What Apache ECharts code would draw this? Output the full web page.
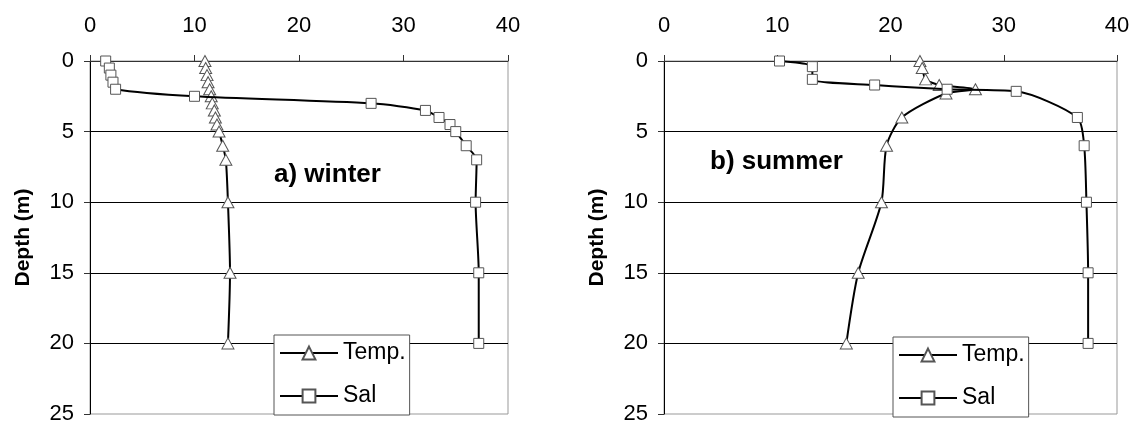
<!DOCTYPE html>
<html>
<head>
<meta charset="utf-8">
<script src="https://cdn.jsdelivr.net/npm/echarts@6/dist/echarts.min.js"></script>
<style>
  html, body { margin: 0; padding: 0; background: #fff; }
  #chart { width: 1134px; height: 425px; }
</style>
</head>
<body>
<div id="chart"></div>
<script>
// ---- data ----
const xTicks = [0, 10, 20, 30, 40];
const depthTicks = [0, 5, 10, 15, 20, 25];
const panelTitles = ['a) winter', 'b) summer'];
const seriesNames = ['Temp.', 'Sal'];

const winterTempDepth = [0, 0.5, 1, 1.5, 2, 2.5, 3, 3.5, 4, 4.5, 5, 6, 7, 10, 15, 20];
const winterTemp      = [11.0, 11.07, 11.2, 11.3, 11.45, 11.6, 11.7, 11.9, 12.0, 12.15, 12.35, 12.7, 13.0, 13.2, 13.4, 13.2];
const winterSalDepth  = [0, 0.5, 1, 1.5, 2, 2.5, 3, 3.5, 4, 4.5, 5, 6, 7, 10, 15, 20];
const winterSal       = [1.5, 1.85, 2.0, 2.2, 2.45, 10.0, 26.9, 32.1, 33.4, 34.45, 35.0, 36.0, 37.0, 36.9, 37.2, 37.2];

const summerTempDepth = [0, 0.5, 1.3, 1.7, 2.0, 2.3, 4, 6, 10, 15, 20];
const summerTemp      = [22.6, 22.8, 23.1, 24.3, 27.5, 24.9, 21.0, 19.65, 19.2, 17.15, 16.1];
const summerSalDepth  = [0, 0.4, 1.3, 1.7, 2.0, 2.15, 4, 6, 10, 15, 20];
const summerSal       = [10.2, 13.1, 13.1, 18.6, 25.0, 31.1, 36.5, 37.1, 37.3, 37.45, 37.45];

// ---- chart ----
const FONT = "'Liberation Sans', Arial, sans-serif";
const pair = (xs, ds) => xs.map((v, i) => [v, ds[i]]);

function xAxisCfg(gridIndex) {
  return {
    gridIndex, type: 'value', position: 'top',
    min: xTicks[0], max: xTicks[xTicks.length - 1], interval: xTicks[1] - xTicks[0],
    axisLine: { show: true, onZero: false, lineStyle: { color: '#333', width: 1 } },
    axisTick: { show: true, length: 6, lineStyle: { color: '#333' } },
    axisLabel: { fontSize: 22, color: '#000', fontFamily: FONT, margin: 24 },
    splitLine: { show: false }
  };
}
function yAxisCfg(gridIndex) {
  return {
    gridIndex, type: 'value', inverse: true,
    min: depthTicks[0], max: depthTicks[depthTicks.length - 1], interval: depthTicks[1] - depthTicks[0],
    name: 'Depth (m)', nameLocation: 'middle', nameGap: 56,
    nameTextStyle: { fontSize: 21, fontWeight: 'bold', color: '#000', fontFamily: FONT },
    axisLine: { show: true, onZero: false, lineStyle: { color: '#000', width: 1 } },
    axisTick: { show: true, length: 6, lineStyle: { color: '#333' } },
    axisLabel: { fontSize: 22, color: '#000', fontFamily: FONT, margin: 16 },
    splitLine: { show: true, showMinLine: false, showMaxLine: false, lineStyle: { color: '#000', width: 1 } }
  };
}
function lineSeries(name, idx, data, symbol, size) {
  return {
    name, type: 'line', xAxisIndex: idx, yAxisIndex: idx,
    data, smooth: 0.25, symbol, symbolSize: size, showAllSymbol: true,
    lineStyle: { color: '#000', width: 2 },
    itemStyle: { color: '#fff', borderColor: '#555', borderWidth: 1 },
    emphasis: { disabled: true },
    animation: false, z: symbol === 'rect' ? 3 : 2
  };
}
function legendCfg(left, top) {
  return {
    left, top, orient: 'vertical',
    data: seriesNames,
    itemWidth: 58, itemHeight: 16, itemGap: 17,
    padding: [5, 4, 6, 5],
    borderColor: '#555', borderWidth: 1, backgroundColor: '#fff',
    textStyle: { fontSize: 23, color: '#000', fontFamily: FONT, lineHeight: 26 },
    selectedMode: false
  };
}

const chart = echarts.init(document.getElementById('chart'), null, { renderer: 'canvas' });
chart.setOption({
  backgroundColor: '#fff',
  animation: false,
  title: [
    { text: panelTitles[0], left: 269, top: 157, textStyle: { fontSize: 26, fontWeight: 'bold', color: '#000', fontFamily: FONT } },
    { text: panelTitles[1], left: 705, top: 144, textStyle: { fontSize: 26, fontWeight: 'bold', color: '#000', fontFamily: FONT } }
  ],
  grid: [
    { left: 90, top: 61, width: 418, height: 358, show: true, borderColor: '#999', borderWidth: 1, backgroundColor: 'transparent' },
    { left: 664, top: 61, width: 453, height: 358, show: true, borderColor: '#999', borderWidth: 1, backgroundColor: 'transparent' }
  ],
  xAxis: [xAxisCfg(0), xAxisCfg(1)],
  yAxis: [yAxisCfg(0), yAxisCfg(1)],
  legend: [legendCfg(274, 335), legendCfg(893, 337)],
  series: [
    lineSeries(seriesNames[0], 0, pair(winterTemp, winterTempDepth), 'triangle', [12, 11]),
    lineSeries(seriesNames[1], 0, pair(winterSal, winterSalDepth), 'rect', 10),
    lineSeries(seriesNames[0], 1, pair(summerTemp, summerTempDepth), 'triangle', [12, 11]),
    lineSeries(seriesNames[1], 1, pair(summerSal, summerSalDepth), 'rect', 10)
  ]
});
</script>
</body>
</html>
